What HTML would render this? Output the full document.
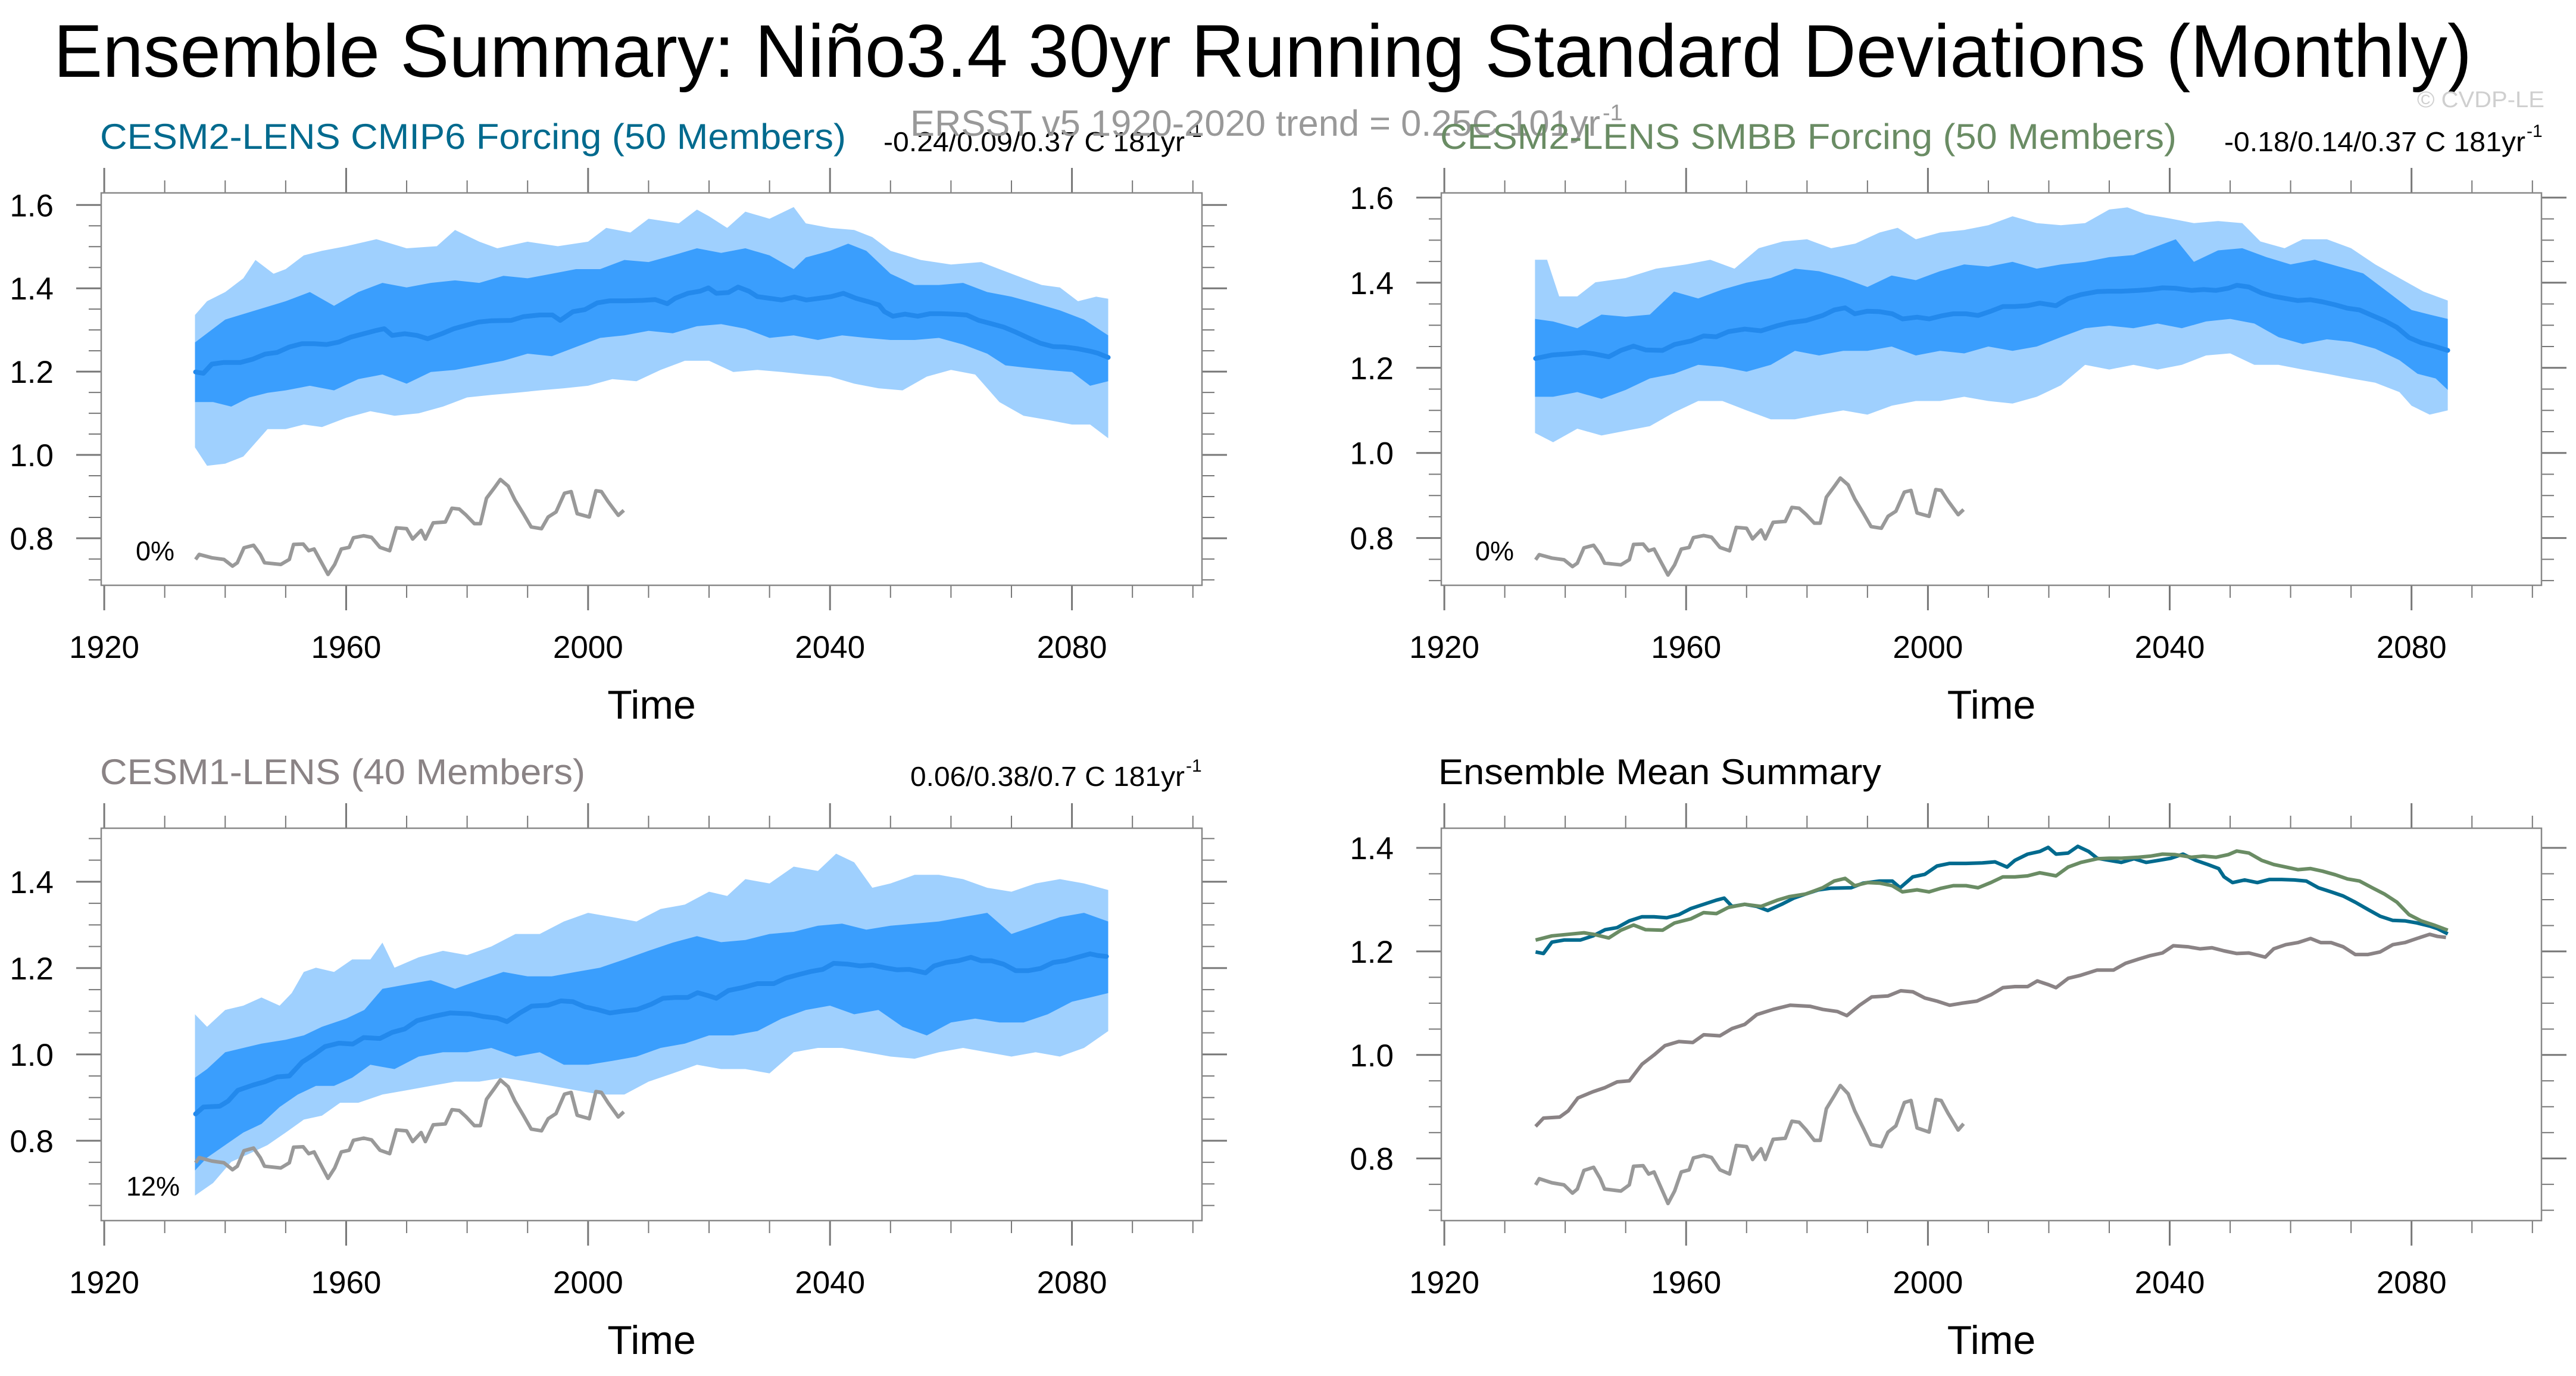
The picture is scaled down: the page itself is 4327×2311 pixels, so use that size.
<!DOCTYPE html>
<html><head><meta charset="utf-8"><style>
html,body{margin:0;padding:0;background:#fff;}
svg{display:block;font-family:"Liberation Sans",Arial,sans-serif;}
</style></head><body>
<svg id="chart" xmlns="http://www.w3.org/2000/svg" width="4327" height="2311" viewBox="0 0 4327 2311">
<rect x="0" y="0" width="4327" height="2311" fill="#fff"/>
<text x="90" y="129" font-size="125" textLength="4062" lengthAdjust="spacingAndGlyphs" fill="#000">Ensemble Summary: Niño3.4 30yr Running Standard Deviations (Monthly)</text>
<text x="4060" y="180" font-size="38" textLength="214" lengthAdjust="spacingAndGlyphs" fill="#cfcfcf">© CVDP-LE</text>
<text x="168" y="250" font-size="60" textLength="1253" lengthAdjust="spacingAndGlyphs" fill="#006a8e">CESM2-LENS CMIP6 Forcing (50 Members)</text>
<text y="254" font-size="46" fill="#000"><tspan x="1484" textLength="506" lengthAdjust="spacingAndGlyphs">-0.24/0.09/0.37 C 181yr</tspan><tspan x="1992" y="230" font-size="30">-1</tspan></text>
<text y="228" font-size="61" fill="#999"><tspan x="1529" textLength="1159" lengthAdjust="spacingAndGlyphs">ERSST v5 1920-2020 trend = 0.25C 101yr</tspan><tspan x="2692" y="202" font-size="38">-1</tspan></text>
<text x="2419" y="250" font-size="60" textLength="1237" lengthAdjust="spacingAndGlyphs" fill="#6a8c64">CESM2-LENS SMBB Forcing (50 Members)</text>
<text y="254" font-size="46" fill="#000"><tspan x="3736" textLength="506" lengthAdjust="spacingAndGlyphs">-0.18/0.14/0.37 C 181yr</tspan><tspan x="4244" y="230" font-size="30">-1</tspan></text>
<text x="168" y="1317" font-size="60" textLength="815" lengthAdjust="spacingAndGlyphs" fill="#8a8385">CESM1-LENS (40 Members)</text>
<text y="1320" font-size="46" fill="#000"><tspan x="1529" textLength="461" lengthAdjust="spacingAndGlyphs">0.06/0.38/0.7 C 181yr</tspan><tspan x="1992" y="1296" font-size="30">-1</tspan></text>
<text x="2416" y="1317" font-size="60" textLength="744" lengthAdjust="spacingAndGlyphs" fill="#000">Ensemble Mean Summary</text>
<text x="228" y="941" font-size="45" fill="#000">0%</text>
<text x="2478" y="941" font-size="45" fill="#000">0%</text>
<text x="212" y="2008" font-size="45" fill="#000">12%</text>
</svg>
<script>
// ---- data ----
const obsYears=[1935.1,1935.7,1937.8,1939.8,1941.2,1942,1943.1,1944.7,1945.8,1946.5,1949.2,1950.6,1951.3,1952.9,1953.8,1954.7,1956.1,1957,1958.1,1959.2,1960.5,1961.2,1962.9,1964.2,1965.6,1967.2,1968.3,1970,1971,1972.4,1973.1,1974.4,1976.4,1977.5,1978.7,1979.8,1981.2,1982.2,1983.2,1984.5,1985.5,1986.8,1987.9,1989.3,1990.6,1992.3,1993.4,1994.7,1996.1,1997.2,1998.2,2000.2,2001.3,2002.2,2003.3,2005,2005.9];
const obsVals=[0.749,0.761,0.753,0.749,0.733,0.741,0.777,0.783,0.761,0.741,0.737,0.749,0.785,0.786,0.770,0.774,0.737,0.713,0.737,0.774,0.778,0.801,0.806,0.802,0.778,0.770,0.825,0.823,0.798,0.819,0.798,0.837,0.839,0.872,0.870,0.856,0.835,0.835,0.896,0.921,0.941,0.925,0.892,0.859,0.827,0.823,0.851,0.863,0.908,0.912,0.859,0.851,0.914,0.912,0.888,0.855,0.867];

const cesm1Years=[1935.1,1936.4,1939.1,1940.5,1942.1,1944.6,1946.6,1948.6,1950.6,1952.7,1954.7,1956.5,1958.8,1961.1,1962.9,1965.6,1967.6,1969.7,1971.7,1974.4,1977.2,1980.5,1982.6,1985,1986.6,1988.7,1990.7,1993.4,1995.5,1997.5,1999.5,2001.5,2003.6,2005.6,2008.1,2010.4,2012.4,2014.4,2016.5,2018.1,2019.9,2021.2,2023.2,2025.3,2028,2030.7,2032.7,2034.8,2036.8,2038.8,2040.6,2043,2045,2047,2049,2051.1,2053.1,2055.8,2057.2,2059.2,2061.2,2063.3,2065,2066.7,2068.7,2070.7,2072.8,2074.8,2076.9,2078.9,2080.9,2083,2084.3,2085.7];
const cesm1Mean=[0.862,0.878,0.880,0.892,0.917,0.929,0.937,0.948,0.950,0.982,1.0,1.018,1.026,1.024,1.039,1.037,1.051,1.059,1.078,1.088,1.096,1.094,1.088,1.084,1.076,1.096,1.112,1.114,1.124,1.122,1.110,1.104,1.096,1.100,1.104,1.116,1.130,1.132,1.132,1.143,1.136,1.130,1.148,1.154,1.164,1.164,1.177,1.185,1.192,1.197,1.211,1.209,1.205,1.207,1.201,1.196,1.197,1.189,1.205,1.213,1.217,1.225,1.217,1.217,1.209,1.194,1.194,1.199,1.213,1.217,1.225,1.233,1.229,1.227];

const cmip6Years=[1935.1,1936.4,1937.8,1939.8,1942.5,1944.6,1946.6,1948.6,1950.6,1952.7,1954.7,1956.8,1958.8,1960.8,1962.9,1965,1966.3,1967.6,1969.7,1971.7,1973.5,1975.8,1977.8,1979.8,1981.9,1983.9,1987.3,1989.3,1992,1994.1,1995.4,1997.5,1999.5,2001.5,2003.6,2006.3,2009,2011.1,2013.1,2014.4,2016.5,2018.5,2019.9,2021.2,2023.2,2024.8,2026.6,2028,2030,2032,2034.1,2036.1,2038.2,2040.2,2042.2,2044.3,2046.3,2048.1,2049,2050.4,2052.4,2054.5,2056.5,2058.5,2060.6,2062.6,2064.6,2066.7,2068.7,2070.7,2072.8,2074.8,2076.9,2078.9,2080.9,2083,2084.3,2086];
const cmip6Mean=[1.199,1.196,1.218,1.222,1.222,1.230,1.242,1.246,1.259,1.267,1.267,1.265,1.271,1.283,1.291,1.299,1.303,1.287,1.291,1.287,1.279,1.291,1.303,1.311,1.319,1.322,1.323,1.332,1.336,1.336,1.323,1.344,1.349,1.365,1.370,1.370,1.371,1.373,1.363,1.376,1.388,1.393,1.401,1.388,1.390,1.403,1.393,1.380,1.376,1.372,1.379,1.372,1.376,1.380,1.388,1.376,1.368,1.360,1.344,1.333,1.338,1.333,1.339,1.339,1.338,1.336,1.323,1.315,1.307,1.295,1.281,1.268,1.260,1.259,1.255,1.249,1.244,1.234];

const smbbYears=[1935.1,1937.8,1940.5,1943.1,1944.7,1947.2,1949.2,1951.3,1953.3,1956.1,1958.1,1960.8,1962.9,1965,1967,1969.7,1972.4,1975.1,1977.1,1979.8,1982.6,1984.5,1986.3,1987.9,1990,1992,1994.1,1995.8,1998.2,2000.2,2002.2,2004.2,2006.3,2008.3,2010.4,2012.4,2014.4,2016.5,2018.5,2021.2,2023.2,2025.3,2028,2030,2032,2034.8,2036.8,2038.8,2040.9,2043.6,2045.6,2047.7,2049.7,2051.1,2053.1,2055.2,2057.2,2059.2,2061.2,2063.3,2065.3,2067.4,2069.4,2071.4,2073.5,2075.5,2077.6,2079.6,2081.6,2083.7,2086];
const smbbMean=[1.222,1.230,1.233,1.236,1.233,1.226,1.241,1.251,1.242,1.241,1.255,1.263,1.275,1.273,1.285,1.291,1.287,1.299,1.306,1.311,1.323,1.336,1.341,1.327,1.333,1.332,1.327,1.315,1.319,1.315,1.322,1.327,1.327,1.323,1.333,1.344,1.344,1.346,1.352,1.346,1.363,1.372,1.379,1.380,1.380,1.382,1.384,1.388,1.387,1.382,1.384,1.382,1.387,1.394,1.390,1.376,1.368,1.363,1.358,1.360,1.355,1.348,1.340,1.336,1.323,1.311,1.295,1.271,1.259,1.251,1.241];

// panel 1 envelopes
const p1OuterUpYears=[1935,1937,1940,1943,1945,1948,1950,1953,1956,1960,1965,1970,1975,1978,1982,1985,1990,1995,2000,2003,2007,2010,2015,2018,2020,2023,2026,2030,2034,2036,2040,2044,2047,2050,2055,2060,2065,2068,2072,2075,2078,2081,2084,2086];
const p1OuterUp=[1.336,1.369,1.391,1.424,1.468,1.435,1.446,1.479,1.490,1.501,1.518,1.496,1.501,1.540,1.512,1.496,1.512,1.501,1.512,1.545,1.534,1.567,1.556,1.589,1.573,1.545,1.584,1.567,1.595,1.556,1.545,1.540,1.523,1.490,1.468,1.457,1.463,1.446,1.424,1.408,1.402,1.369,1.380,1.375];
const p1InnerUpYears=[1935,1940,1945,1950,1954,1958,1962,1966,1970,1974,1978,1982,1986,1990,1994,1998,2002,2006,2010,2014,2018,2022,2026,2030,2034,2036,2040,2043,2046,2050,2054,2058,2062,2066,2070,2074,2078,2082,2086];
const p1InnerUp=[1.270,1.325,1.347,1.369,1.391,1.358,1.391,1.413,1.402,1.413,1.419,1.413,1.430,1.424,1.435,1.446,1.446,1.468,1.463,1.479,1.496,1.485,1.496,1.479,1.446,1.474,1.490,1.507,1.490,1.435,1.408,1.408,1.413,1.391,1.380,1.364,1.347,1.325,1.287];
const p1InnerLoYears=[1935,1938,1941,1944,1947,1950,1954,1958,1962,1966,1970,1974,1978,1982,1986,1990,1994,1998,2002,2006,2010,2014,2018,2022,2026,2030,2034,2038,2042,2046,2050,2054,2058,2062,2066,2069,2072,2076,2080,2083,2086];
const p1InnerLo=[1.127,1.127,1.116,1.138,1.149,1.155,1.166,1.155,1.182,1.193,1.171,1.199,1.204,1.215,1.226,1.243,1.237,1.259,1.281,1.287,1.298,1.292,1.309,1.314,1.303,1.281,1.287,1.276,1.287,1.281,1.276,1.276,1.281,1.265,1.243,1.215,1.210,1.204,1.199,1.166,1.177];
const p1OuterLoYears=[1935,1937,1940,1943,1945,1947,1950,1953,1956,1960,1964,1968,1972,1976,1980,1984,1988,1992,1996,2000,2004,2008,2012,2016,2020,2024,2028,2032,2036,2040,2044,2048,2052,2056,2060,2064,2068,2072,2076,2080,2083,2086];
const p1OuterLo=[1.018,0.974,0.979,0.996,1.029,1.062,1.062,1.073,1.067,1.089,1.105,1.094,1.100,1.116,1.138,1.144,1.149,1.155,1.160,1.166,1.182,1.177,1.204,1.226,1.226,1.199,1.204,1.199,1.193,1.188,1.171,1.160,1.155,1.188,1.204,1.193,1.127,1.094,1.084,1.073,1.073,1.040];

// panel 2 envelopes
const p2OuterUpYears=[1935,1937,1939,1942,1945,1950,1955,1960,1964,1968,1972,1976,1980,1984,1988,1992,1995,1998,2002,2006,2010,2014,2018,2022,2026,2030,2033,2036,2040,2044,2048,2052,2055,2059,2062,2066,2070,2074,2078,2082,2086];
const p2OuterUp=[1.454,1.454,1.368,1.368,1.401,1.411,1.433,1.443,1.454,1.433,1.481,1.497,1.502,1.481,1.492,1.518,1.529,1.502,1.518,1.524,1.535,1.556,1.540,1.535,1.540,1.572,1.577,1.561,1.551,1.540,1.545,1.540,1.497,1.481,1.502,1.502,1.481,1.443,1.411,1.379,1.358];
const p2InnerUpYears=[1935,1938,1942,1946,1950,1954,1958,1962,1966,1970,1974,1978,1982,1986,1990,1994,1998,2002,2006,2010,2014,2018,2022,2026,2030,2034,2038,2041,2044,2048,2052,2056,2060,2064,2068,2072,2076,2080,2083,2086];
const p2InnerUp=[1.315,1.309,1.293,1.325,1.320,1.325,1.379,1.363,1.384,1.400,1.411,1.433,1.427,1.411,1.390,1.417,1.406,1.427,1.443,1.438,1.449,1.433,1.443,1.449,1.460,1.465,1.486,1.502,1.449,1.476,1.481,1.460,1.443,1.454,1.438,1.422,1.379,1.336,1.325,1.315];
const p2InnerLoYears=[1935,1938,1942,1946,1950,1954,1958,1962,1966,1970,1974,1978,1982,1986,1990,1994,1998,2002,2006,2010,2014,2018,2022,2026,2030,2034,2038,2042,2046,2050,2054,2058,2062,2066,2070,2074,2078,2081,2084,2086];
const p2InnerLo=[1.132,1.132,1.143,1.127,1.148,1.175,1.186,1.207,1.202,1.191,1.207,1.240,1.229,1.240,1.240,1.250,1.229,1.240,1.234,1.250,1.240,1.250,1.272,1.293,1.299,1.293,1.304,1.293,1.309,1.315,1.304,1.272,1.256,1.267,1.261,1.245,1.218,1.186,1.175,1.148];
const p2OuterLoYears=[1935,1938,1942,1946,1950,1954,1958,1962,1966,1970,1974,1978,1982,1986,1990,1994,1998,2002,2006,2010,2014,2018,2022,2026,2030,2034,2038,2042,2046,2050,2054,2058,2062,2066,2070,2074,2078,2080,2083,2086];
const p2OuterLo=[1.047,1.025,1.057,1.041,1.052,1.063,1.095,1.122,1.122,1.100,1.079,1.079,1.090,1.100,1.090,1.111,1.122,1.122,1.132,1.122,1.116,1.132,1.159,1.207,1.196,1.207,1.196,1.207,1.229,1.234,1.207,1.207,1.196,1.186,1.175,1.165,1.143,1.111,1.090,1.100];

// panel 3 envelopes
const p3OuterUpYears=[1935,1937,1940,1943,1946,1949,1951,1953,1955,1958,1961,1964,1966,1968,1972,1976,1980,1984,1988,1992,1996,2000,2004,2008,2012,2016,2020,2023,2026,2030,2034,2038,2041,2044,2047,2050,2054,2058,2062,2066,2070,2074,2078,2082,2086];
const p3OuterUp=[1.093,1.064,1.103,1.113,1.132,1.113,1.142,1.191,1.201,1.191,1.220,1.220,1.259,1.201,1.225,1.240,1.230,1.250,1.279,1.279,1.308,1.328,1.318,1.308,1.337,1.347,1.377,1.367,1.406,1.396,1.435,1.425,1.465,1.445,1.386,1.396,1.416,1.416,1.406,1.386,1.377,1.396,1.406,1.396,1.381];
const p3InnerUpYears=[1935,1937,1940,1943,1946,1950,1953,1956,1960,1963,1966,1970,1974,1978,1982,1986,1990,1994,1998,2002,2006,2010,2014,2018,2022,2026,2030,2034,2038,2042,2046,2050,2054,2058,2062,2066,2070,2074,2078,2082,2086];
const p3InnerUp=[0.946,0.966,1.005,1.015,1.025,1.034,1.044,1.064,1.083,1.103,1.152,1.162,1.172,1.152,1.172,1.191,1.181,1.181,1.191,1.201,1.220,1.240,1.259,1.274,1.260,1.265,1.279,1.284,1.298,1.303,1.289,1.298,1.303,1.308,1.318,1.328,1.279,1.298,1.318,1.328,1.308];
const p3InnerLoYears=[1935,1937,1940,1943,1946,1949,1952,1955,1958,1961,1964,1968,1972,1976,1980,1984,1988,1992,1996,2000,2004,2008,2012,2016,2020,2024,2028,2032,2036,2040,2044,2048,2052,2056,2060,2064,2068,2072,2076,2080,2083,2086];
const p3InnerLo=[0.731,0.761,0.790,0.819,0.839,0.878,0.907,0.927,0.927,0.946,0.976,0.966,0.995,1.005,1.005,1.015,0.995,1.005,0.976,0.976,0.985,0.995,1.015,1.025,1.044,1.044,1.054,1.083,1.103,1.113,1.093,1.103,1.064,1.044,1.074,1.083,1.074,1.074,1.093,1.122,1.132,1.142];
const p3OuterLoYears=[1935,1938,1941,1944,1947,1950,1953,1956,1959,1962,1966,1970,1974,1978,1982,1986,1990,1994,1998,2002,2006,2010,2014,2018,2022,2026,2030,2034,2038,2042,2046,2050,2054,2058,2062,2066,2070,2074,2078,2082,2086];
const p3OuterLo=[0.673,0.702,0.751,0.770,0.790,0.819,0.849,0.858,0.888,0.888,0.907,0.917,0.927,0.937,0.937,0.946,0.937,0.927,0.917,0.907,0.907,0.937,0.956,0.976,0.966,0.966,0.956,1.005,1.015,1.015,1.005,0.995,0.990,1.005,1.015,1.005,0.995,1.005,0.995,1.015,1.054];

const xTickLabels=["1920","1960","2000","2040","2080"];
const yTickLabels=["0.8","1.0","1.2","1.4","1.6"];

// ---- drawing ----
const NS="http://www.w3.org/2000/svg";
const svg=document.getElementById('chart');
const XMIN=1919.5, XMAX=2101.5;
function mk(tag,attrs,parent){const e=document.createElementNS(NS,tag);for(const k in attrs)e.setAttribute(k,attrs[k]);(parent||svg).appendChild(e);return e;}
function makePanel(box,ymin,ymax){
  return {
    sx:v=>box.x0+(v-XMIN)/(XMAX-XMIN)*(box.x1-box.x0),
    sy:v=>box.y1-(v-ymin)/(ymax-ymin)*(box.y1-box.y0),
    box,ymin,ymax
  };
}
function linePath(p,xs,ys){return xs.map((x,i)=>(i?'L':'M')+p.sx(x).toFixed(1)+','+p.sy(ys[i]).toFixed(1)).join('');}
function bandPath(p,ux,uy,lx,ly){
  let d=ux.map((x,i)=>(i?'L':'M')+p.sx(x).toFixed(1)+','+p.sy(uy[i]).toFixed(1)).join('');
  for(let i=lx.length-1;i>=0;i--)d+='L'+p.sx(lx[i]).toFixed(1)+','+p.sy(ly[i]).toFixed(1);
  return d+'Z';
}
function drawAxes(p,id){
  const b=p.box;
  const g=mk('g',{});
  
  
  for(let yr=1920;yr<=2100;yr+=10){
    const x=p.sx(yr), major=(yr-1920)%40===0, L=major?42:21;
    const t1=mk('line',{x1:x,x2:x,y1:b.y0,y2:b.y0-L,stroke:'#777','stroke-width':major?3:2},g);
    
    
    const t2=mk('line',{x1:x,x2:x,y1:b.y1,y2:b.y1+L,stroke:'#777','stroke-width':major?3:2},g);
    
    
  }
  xTickLabels.forEach(s=>{
    const t=mk('text',{x:p.sx(+s),y:b.y1+122,'font-size':53,'text-anchor':'middle',fill:'#000'},g);
    t.textContent=s;
    
    
  });
  for(let k=Math.ceil(p.ymin/0.05-1e-6);k*0.05<=p.ymax+1e-6;k++){
    const v=k*0.05, y=p.sy(v), major=(k%4===0), L=major?42:21;
    const a=mk('line',{x1:b.x0,x2:b.x0-L,y1:y,y2:y,stroke:'#777','stroke-width':major?3:2},g);
    
    
    const c=mk('line',{x1:b.x1,x2:b.x1+L,y1:y,y2:y,stroke:'#777','stroke-width':major?3:2},g);
    
    
  }
  yTickLabels.forEach(s=>{
    const v=+s; if(v<p.ymin||v>p.ymax)return;
    const t=mk('text',{x:b.x0-80,y:p.sy(v)+19,'font-size':53,'text-anchor':'end',fill:'#000'},g);
    t.textContent=s;
    
    
  });
  const tt=mk('text',{x:(b.x0+b.x1)/2-0,y:b.y1+224,'font-size':68,'text-anchor':'middle',fill:'#000'},g);
  tt.textContent='Time';
  
  
  const r=mk('rect',{x:b.x0,y:b.y0,width:b.x1-b.x0,height:b.y1-b.y0,fill:'none',stroke:'#888','stroke-width':2.5},g);
  
  
}
function ensemblePanel(p,id,ouX,ou,iuX,iu,ilX,il,olX,ol,mX,m){
  const o=mk('path',{d:bandPath(p,ouX,ou,olX,ol),fill:'#9fd0fe'});
  
  
  const i=mk('path',{d:bandPath(p,iuX,iu,ilX,il),fill:'#3a9efd'});
  
  
  const l=mk('path',{d:linePath(p,mX,m),fill:'none',stroke:'#2389ec','stroke-width':8,'stroke-linejoin':'round','stroke-linecap':'round'});
  
  
  const ob=mk('path',{d:linePath(p,obsYears,obsVals),fill:'none',stroke:'#999','stroke-width':6,'stroke-linejoin':'round'});
  
  
  drawAxes(p,id);
}
const P1=makePanel({x0:170,x1:2019,y0:324,y1:983},0.687,1.629);
const P2=makePanel({x0:2421,x1:4269,y0:324,y1:983},0.689,1.611);
const P3=makePanel({x0:170,x1:2019,y0:1391,y1:2050},0.615,1.524);
const P4=makePanel({x0:2421,x1:4269,y0:1391,y1:2050},0.680,1.438);
ensemblePanel(P1,'p1',p1OuterUpYears,p1OuterUp,p1InnerUpYears,p1InnerUp,p1InnerLoYears,p1InnerLo,p1OuterLoYears,p1OuterLo,cmip6Years,cmip6Mean);
ensemblePanel(P2,'p2',p2OuterUpYears,p2OuterUp,p2InnerUpYears,p2InnerUp,p2InnerLoYears,p2InnerLo,p2OuterLoYears,p2OuterLo,smbbYears,smbbMean);
ensemblePanel(P3,'p3',p3OuterUpYears,p3OuterUp,p3InnerUpYears,p3InnerUp,p3InnerLoYears,p3InnerLo,p3OuterLoYears,p3OuterLo,cesm1Years,cesm1Mean);
// panel 4: means summary
[[cesm1Years,cesm1Mean,'#8a8385','p4-cesm1-mean-line'],[obsYears,obsVals,'#999','p4-observed-line'],[cmip6Years,cmip6Mean,'#006a8e','p4-cmip6-mean-line'],[smbbYears,smbbMean,'#6a8c64','p4-smbb-mean-line']].forEach(s=>{
  const l=mk('path',{d:linePath(P4,s[0],s[1]),fill:'none',stroke:s[2],'stroke-width':6,'stroke-linejoin':'round'});
  
  
});
drawAxes(P4,'p4');
</script>
</body></html>
